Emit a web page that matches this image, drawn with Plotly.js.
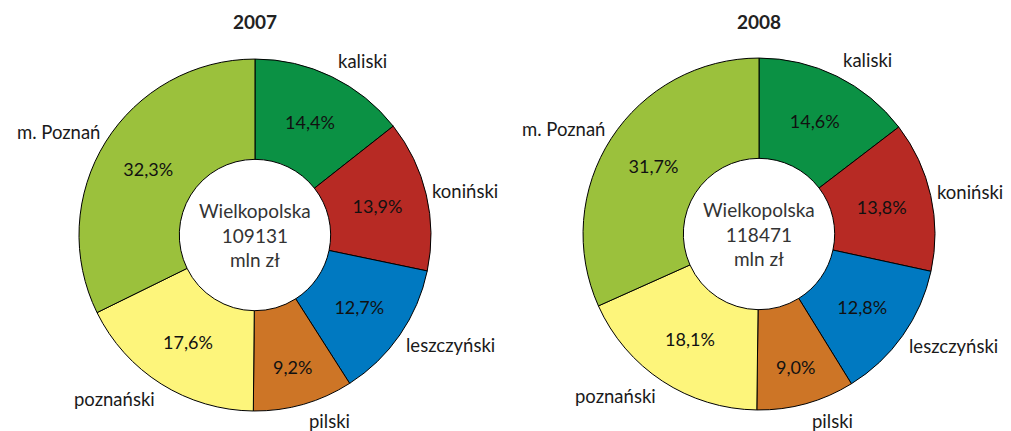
<!DOCTYPE html>
<html>
<head>
<meta charset="utf-8">
<script src="https://cdn.plot.ly/plotly-3.0.1.min.js"></script>
<style>html,body{margin:0;padding:0;background:#fff;}#chart{width:1011px;height:431px;}</style>
</head>
<body>
<div id="chart"></div>
<script>
const regions = ["kaliski", "koniński", "leszczyński", "pilski", "poznański", "m. Poznań"];
const shares2007 = [14.4, 13.9, 12.7, 9.2, 17.6, 32.3];
const shares2008 = [14.6, 13.8, 12.8, 9.0, 18.1, 31.7];
const years = ["2007", "2008"];
const totals = [109131, 118471];
const colors = ["#0b9144", "#b72a24", "#0079c1", "#cd7526", "#fdf57b", "#9bc13c"];

const W = 1011, H = 431;
const FONT = "Lato, 'Open Sans', sans-serif";
const LABEL_SIZE = 18.5;
const domains = [
  {x: [0.0781, 0.4263], y: [0.0464, 0.863]},
  {x: [0.5767, 0.9248], y: [0.0487, 0.8654]}
];
const fmt = v => v.toFixed(1).replace('.', ',') + '%';

const data = [];
const annotations = [];
[shares2007, shares2008].forEach((vals, i) => {
  const dom = domains[i];
  data.push({
    type: 'pie', values: vals, labels: regions, sort: false, direction: 'clockwise', rotation: 0,
    hole: 0.43, domain: dom,
    marker: {colors: colors, line: {color: '#000', width: 1}},
    text: vals.map(fmt), textinfo: 'text', textposition: 'inside', insidetextorientation: 'horizontal',
    textfont: {family: FONT, size: 18, color: '#111'}, hoverinfo: 'none', showlegend: false
  });

  // pie geometry as Plotly lays it out (margins are zero)
  const wpx = (dom.x[1] - dom.x[0]) * W, hpx = (dom.y[1] - dom.y[0]) * H;
  const R = Math.min(wpx, hpx) / 2;
  const cx = (dom.x[0] + dom.x[1]) / 2 * W;
  const cy = (1 - (dom.y[0] + dom.y[1]) / 2) * H;
  const total = vals.reduce((a, b) => a + b, 0);
  let cum = 0;
  vals.forEach((v, k) => {
    const th = 2 * Math.PI * (cum + v / 2) / total;
    cum += v;
    const s = Math.sin(th), c = Math.cos(th);
    const px = cx + R * s, py = cy - R * c;
    annotations.push({text: regions[k], x: (px + 4 * Math.sign(s)) / W, y: 1 - (py - 18 * c) / H,
      xref: 'paper', yref: 'paper', showarrow: false, xanchor: s >= 0 ? 'left' : 'right', yanchor: 'middle',
      font: {family: FONT, size: LABEL_SIZE, color: '#1a1a1a'}});
  });

  annotations.push({text: '<b>' + years[i] + '</b>', x: cx / W, y: 1 - 22 / H, xref: 'paper', yref: 'paper',
    showarrow: false, font: {family: FONT, size: 19, color: '#222'}, xanchor: 'center', yanchor: 'middle'});
  annotations.push({text: 'Wielkopolska<br>' + totals[i] + '<br>mln zł', x: cx / W, y: 1 - cy / H,
    xref: 'paper', yref: 'paper', showarrow: false, font: {family: FONT, size: 19, color: '#333'},
    xanchor: 'center', yanchor: 'middle'});
});

const layout = {
  width: W, height: H, margin: {l: 0, r: 0, t: 0, b: 0},
  paper_bgcolor: '#fff', plot_bgcolor: '#fff', showlegend: false,
  font: {family: FONT}, annotations: annotations
};
Plotly.newPlot('chart', data, layout, {displayModeBar: false, staticPlot: true});
</script>
</body>
</html>
